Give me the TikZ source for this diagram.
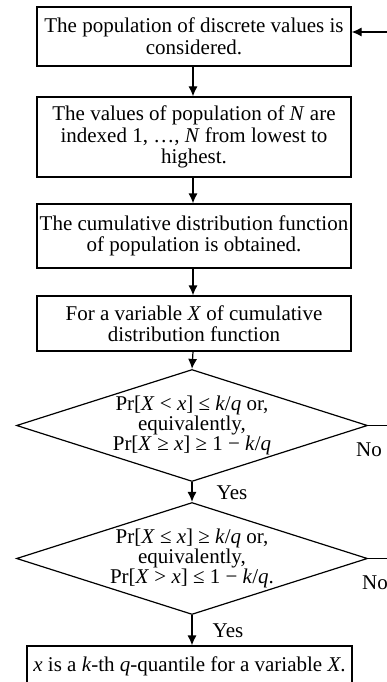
\documentclass[tikz,border=0pt]{standalone}
\usepackage{fontspec}
\setmainfont{Liberation Serif}
\usetikzlibrary{shapes.geometric,arrows.meta}

\begin{document}
\begin{tikzpicture}[x=1pt,y=-1pt,
  every node/.style={font=\fontsize{21}{21.5}\selectfont},
  stepbox/.style={draw,line width=1.2pt,rectangle,inner sep=0pt,align=center,
    minimum width=314pt},
  decision/.style={draw,line width=1.2pt,diamond,aspect=3.1,inner sep=0pt,
    align=center,minimum width=351pt,minimum height=112pt,
    font=\fontsize{21}{20}\selectfont},
  arr/.style={line width=1.2pt,-{Latex[length=10pt,width=9pt]}},
  link/.style={line width=1.2pt},
  lbl/.style={inner sep=0pt}]
\useasboundingbox[fill=white] (0,0) rectangle (387,682);
\clip (0,0) rectangle (387,682);

% process boxes
\node[stepbox,minimum height=59pt] (b1) at (194,36.5)
  {The population of discrete values is\\considered.};
\node[stepbox,minimum height=80pt] (b2) at (194,137)
  {The values of population of \textit{N} are\\indexed 1, …, \textit{N} from lowest to\\highest.};
\node[stepbox,minimum height=64pt] (b3) at (194,236)
  {The cumulative distribution function\\of population is obtained.};
\node[stepbox,minimum height=55pt] (b4) at (194,323.5)
  {For a variable \textit{X} of cumulative\\distribution function};

% decisions
\node[decision] (d1) at (192,425.5)
  {Pr[\textit{X} < \textit{x}] ≤ \textit{k}/\textit{q} or,\\equivalently,\\Pr[\textit{X} ≥ \textit{x}] ≥ 1 − \textit{k}/\textit{q}};
\node[decision] (d2) at (192,558.5)
  {Pr[\textit{X} ≤ \textit{x}] ≥ \textit{k}/\textit{q} or,\\equivalently,\\Pr[\textit{X} > \textit{x}] ≤ 1 − \textit{k}/\textit{q}.};

% result (runs past the lower edge)
\node[stepbox,minimum width=325pt,minimum height=70pt,text height=15pt,text depth=34pt] (res) at (189.5,681)
  {\textit{x} is a \textit{k}-th \textit{q}-quantile for a variable \textit{X}.};

% main flow
\draw[arr] (b1.south -| 193,0) -- (b2.north -| 193,0);
\draw[arr] (b2.south -| 193,0) -- (b3.north -| 193,0);
\draw[arr] (b3.south -| 193,0) -- (b4.north -| 193,0);
\draw[arr] (b4.south -| 193,0) -- (d1.north);
\draw[arr] (d1.south) -- (d2.north);
\draw[arr] (d2.south) -- (d2.south |- res.north);

% "No" branches leave to the right, loop back into the first box
\coordinate (n1) at (387,425.5);
\coordinate (n2) at (387,558.5);
\coordinate (fb) at (387,32);
\draw[link] (d1.east) -- (n1);
\draw[link] (d2.east) -- (n2);
\draw[arr] (fb) -- (fb -| b1.east);

% branch labels
\node[lbl] (no1) at (369,450) {No};
\node[lbl] (no2) at (375,583) {No};
\node[lbl] (yes1) at (232,493) {Yes};
\node[lbl] (yes2) at (228,631) {Yes};
\end{tikzpicture}
\end{document}
